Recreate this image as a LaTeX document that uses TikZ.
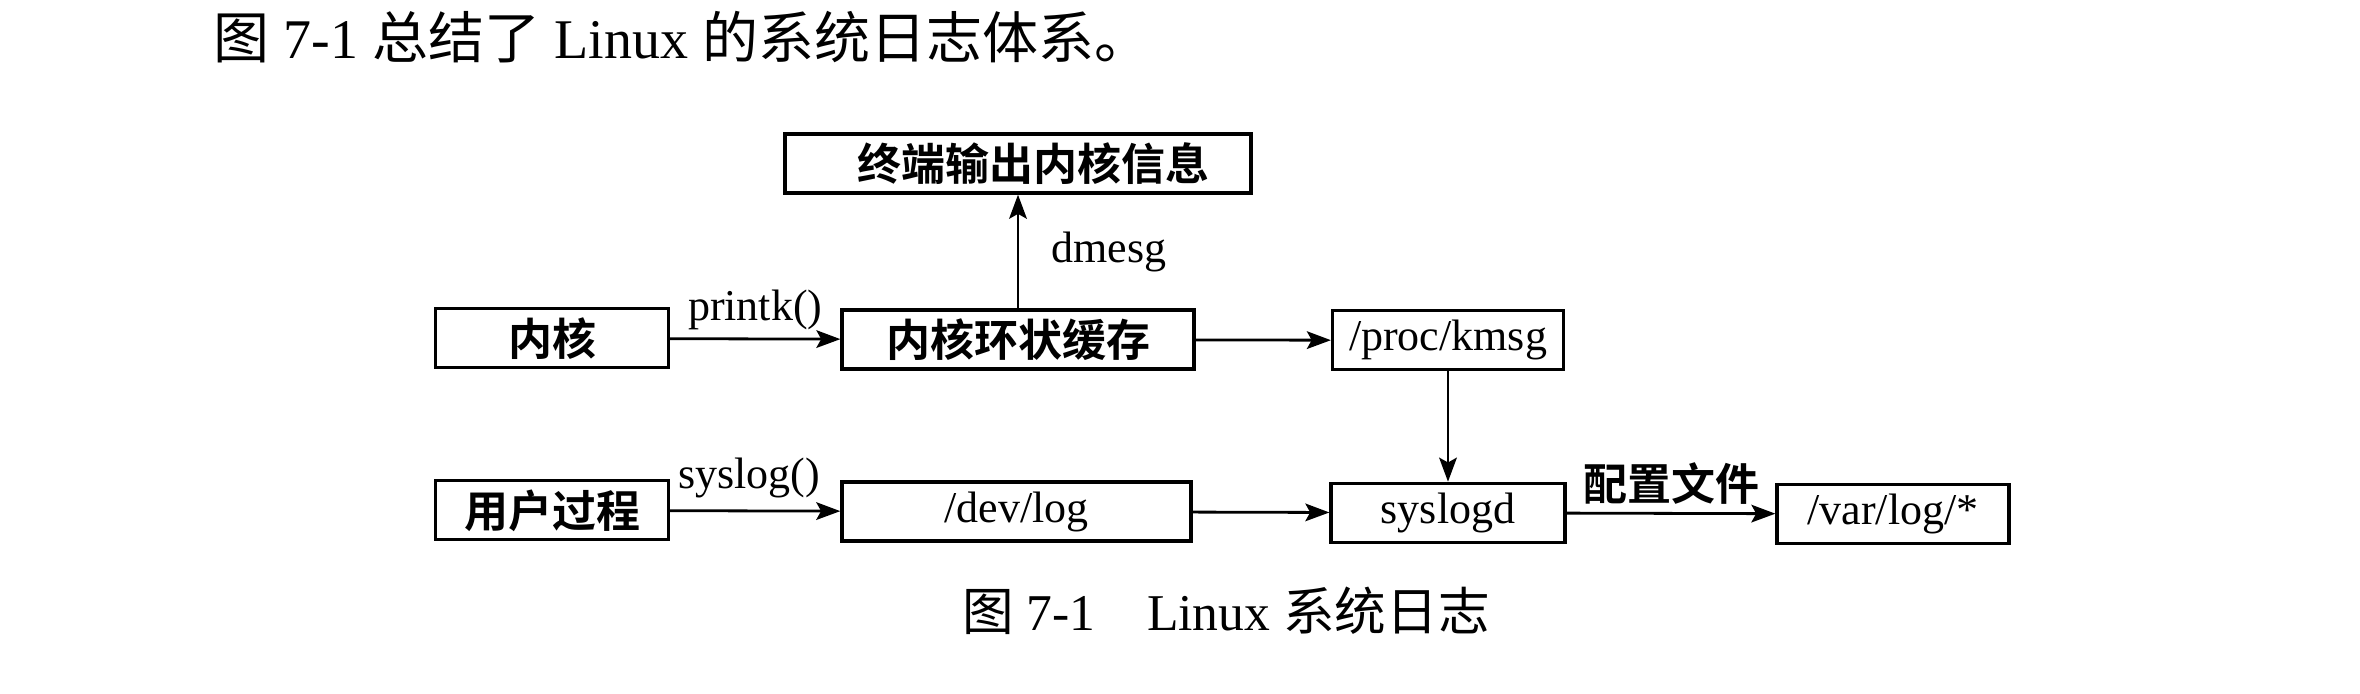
\documentclass[tikz,border=0pt]{standalone}
\usepackage{fontspec}
\setmainfont{Liberation Serif}
\newfontfamily\cjk{Noto Sans CJK SC}[BoldFont={Noto Sans CJK SC Bold}]
\usetikzlibrary{arrows.meta}
\newcommand{\zh}[1]{{\cjk #1}}
\newcommand{\zhb}[1]{{\cjk\bfseries #1}}

\tikzset{
  logbox/.style={draw, line width=0.8pt, inner sep=0pt, minimum height=14.75pt},
  flow/.style={line width=0.7pt, -{Stealth[length=6pt, width=4.4pt, inset=1.2pt]}},
  tag/.style={inner sep=2pt},
}

\begin{document}
\begin{tikzpicture}[font=\fontsize{11pt}{13pt}\selectfont]
\useasboundingbox (0pt,0pt) rectangle (590pt,-173.5pt);
% intro line
\node[anchor=west, inner sep=0pt, font=\fontsize{14pt}{16pt}\selectfont] (intro) at (53.25pt,-9.4pt) {\zh{图} 7-1 \zh{总结了} Linux \zh{的系统日志体系。}};
% boxes
\node[logbox, minimum width=116.5pt] (term) at (254.5pt,-40.9pt) {\hspace*{7.8pt}\zhb{终端输出内核信息}};
\node[logbox, minimum width=58.25pt] (kernel) at (138pt,-84.6pt) {\zhb{内核}};
\node[logbox, minimum width=88pt] (ring) at (254.5pt,-84.9pt) {\zhb{内核环状缓存}};
\node[logbox, minimum width=57.75pt] (kmsg) at (362pt,-85.1pt) {/proc/kmsg};
\node[logbox, minimum width=58.25pt] (user) at (138pt,-127.6pt) {\zhb{用户过程}};
\node[logbox, minimum width=87.25pt] (devlog) at (254.1pt,-127.9pt) {/dev/log};
\node[logbox, minimum width=58.5pt] (syslogd) at (362pt,-128.2pt) {syslogd};
\node[logbox, minimum width=58pt] (varlog) at (473.25pt,-128.5pt) {/var/log/*};
% arrows
\draw[flow] (kernel) -- node[tag, above] {printk()} (ring);
\draw[flow] (ring) -- node[tag, right=6pt] {dmesg} (term);
\draw[flow] (ring) -- (kmsg);
\draw[flow] (kmsg) -- (syslogd);
\draw[flow] (user) -- node[tag, above=1pt, xshift=-1.5pt] {syslog()} (devlog);
\draw[flow] (devlog) -- (syslogd);
\draw[flow] (syslogd) -- node[tag, above] {\zhb{配置文件}} (varlog);
% caption
\node[font=\fontsize{12.9pt}{15pt}\selectfont] (caption) at (306.5pt,-152.75pt) {\zh{图} 7-1\quad Linux \zh{系统日志}};
\end{tikzpicture}
\end{document}
